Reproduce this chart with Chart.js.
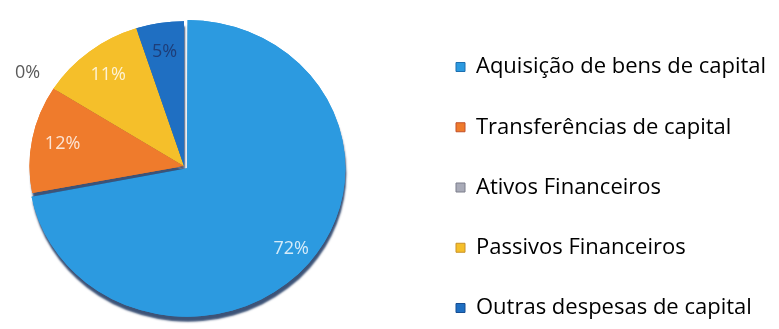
<!DOCTYPE html>
<html>
<head>
<meta charset="utf-8">
<script src="https://cdn.jsdelivr.net/npm/chart.js@4.4.1/dist/chart.umd.min.js"></script>
<style>
  html, body { margin: 0; padding: 0; background: #ffffff; }
  #wrap { width: 779px; height: 329px; }
</style>
</head>
<body>
<div id="wrap"><canvas id="pie" width="779" height="329"></canvas></div>
<script>
// Despesas de capital por grupo (%)
const categories = [
  'Aquisição de bens de capital',
  'Transferências de capital',
  'Ativos Financeiros',
  'Passivos Financeiros',
  'Outras despesas de capital'
];
const shares = [72, 12, 0, 11, 5];
const sliceColors = ['#2c9ae0', '#ef7b2c', '#a9abb8', '#f5bf2a', '#1f6fc2'];
const legendEdge = ['#1d6fb0', '#c2502a', '#7d7f8c', '#c9922a', '#174e93'];
const labelColors = ['rgba(255,255,255,0.8)', 'rgba(255,255,255,0.8)', '#5a5a5a', 'rgba(255,255,255,0.8)', '#1e3d78'];
const explode = [15, 0, 0, 0, 0];

const FONT = "'Open Sans', sans-serif";
const LEGEND_SIZE = 22;
const LEGEND_GAP = 38.25;            // vertical spacing between legend rows (plus font size)
const PIE = { cx: 184, cy: 166, r: 150, sx: 1.03, sy: 0.965 };   // pie centre, radius and tilt
const LEGEND_BOX_X = 456;

// right padding so that the legend swatches line up at LEGEND_BOX_X
// (a vertical legend box is 10px wider than its content)
const meas = document.createElement('canvas').getContext('2d');
meas.font = LEGEND_SIZE + 'px ' + FONT;
const longest = Math.max(...categories.map(t => meas.measureText(t).width));
const padRight = 779 - LEGEND_BOX_X - (9 + LEGEND_SIZE / 2 + longest) - 10;
const padTop = 67 - LEGEND_SIZE / 2 - LEGEND_GAP;

// Keep the pie at its own spot, independent of the legend box.
const pieArea = {
  id: 'pieArea',
  afterLayout(chart) {
    chart.chartArea = {
      left: PIE.cx - PIE.r, right: PIE.cx + PIE.r,
      top: PIE.cy - PIE.r, bottom: PIE.cy + PIE.r,
      width: PIE.r * 2, height: PIE.r * 2
    };
  }
};

// Slight tilt plus a dark rim under the pie; the slices are then
// repainted on top so only the outer edge keeps the shadow.
const rimShadow = {
  id: 'rimShadow',
  beforeDatasetsDraw(chart) {
    const ctx = chart.ctx;
    ctx.save();
    ctx.translate(PIE.cx, PIE.cy);
    ctx.scale(PIE.sx, PIE.sy);
    ctx.translate(-PIE.cx, -PIE.cy);
    ctx.save();
    ctx.shadowColor = 'rgba(12, 40, 85, 0.8)';
    ctx.shadowBlur = 2;
    ctx.shadowOffsetX = 1;
    ctx.shadowOffsetY = 5;
  },
  afterDatasetsDraw(chart) {
    const ctx = chart.ctx;
    ctx.restore();
    chart.getDatasetMeta(0).controller.draw();
    ctx.restore();
  }
};

// Percentage labels placed along each slice's bisector.
const pctLabels = {
  id: 'pctLabels',
  afterDatasetsDraw(chart) {
    const ctx = chart.ctx;
    const meta = chart.getDatasetMeta(0);
    ctx.save();
    ctx.font = "18px " + FONT;
    ctx.textAlign = 'center';
    ctx.textBaseline = 'middle';
    meta.data.forEach((arc, i) => {
      const p = arc.getProps(['x', 'y', 'startAngle', 'endAngle', 'outerRadius']);
      const mid = (p.startAngle + p.endAngle) / 2;
      const f = shares[i] === 0 ? 1.2 : 0.8;
      const d = p.outerRadius * f + explode[i];
      const x = PIE.cx + (p.x + Math.cos(mid) * d - PIE.cx) * PIE.sx;
      const y = PIE.cy + (p.y + Math.sin(mid) * d - PIE.cy) * PIE.sy;
      ctx.fillStyle = labelColors[i];
      ctx.fillText(shares[i] + '%', x, y);
    });
    ctx.restore();
  }
};

new Chart(document.getElementById('pie'), {
  type: 'pie',
  data: {
    labels: categories,
    datasets: [{
      data: shares,
      backgroundColor: sliceColors,
      borderWidth: 0,
      offset: explode,
      hoverOffset: 0
    }]
  },
  options: {
    responsive: false,
    animation: false,
    events: [],
    radius: PIE.r,
    layout: { padding: { top: padTop, bottom: -30, left: 0, right: padRight } },
    plugins: {
      tooltip: { enabled: false },
      legend: {
        position: 'right',
        align: 'start',
        labels: {
          boxWidth: 9,
          boxHeight: 9,
          padding: LEGEND_GAP,
          color: '#3c3c3c',
          font: { family: FONT, size: LEGEND_SIZE },
          generateLabels() {
            return categories.map((text, i) => ({
              text,
              fillStyle: sliceColors[i],
              strokeStyle: legendEdge[i],
              lineWidth: 1,
              hidden: false,
              index: i,
              datasetIndex: 0
            }));
          }
        }
      }
    }
  },
  plugins: [pieArea, rimShadow, pctLabels]
});
</script>
</body>
</html>
